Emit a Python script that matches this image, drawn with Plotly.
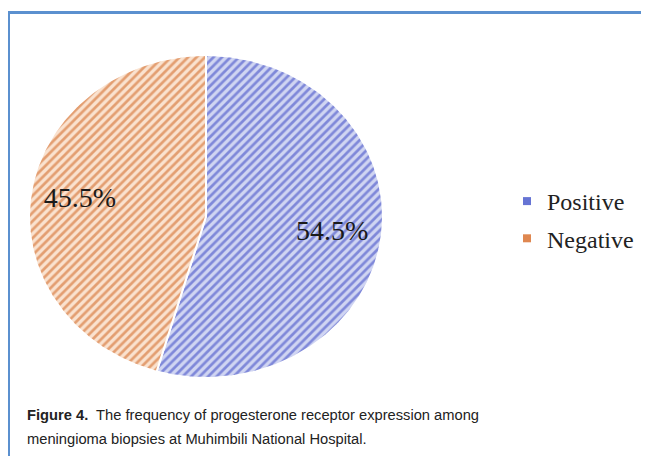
import numpy as np
import plotly.graph_objects as go

# ---- data ----
categories = ["Positive", "Negative"]
percentages = [54.5, 45.5]
label_texts = ["54.5%", "45.5%"]
caption_bold = "Figure 4."
caption_lines = ["The frequency of progesterone receptor expression among",
                 "meningioma biopsies at Muhimbili National Hospital."]

# ---- styles ----
W, H = 649, 456
OFF = 8  # page body margin offset
fg_colors = ["#2d3cc0", "#cc5a14"]
bg_colors = ["#d0d5f2", "#fae2cf"]
legend_colors = ["#6674d4", "#df8750"]
border_color = "#5b90cf"

def px(x):
    return (x - OFF) / W

def py(y):
    return 1 - (y - OFF) / H

# pie box in target-screen pixels (ellipse)
px_left, px_right, px_top, px_bottom = 29, 383, 55, 378

fig = go.Figure()

total = sum(percentages)
cum = np.concatenate([[0], np.cumsum(percentages)]) / total
label_r = 0.72
for i, cat in enumerate(categories):
    t = np.linspace(cum[i], cum[i + 1], 200)
    theta = np.pi / 2 - 2 * np.pi * t
    xs = np.concatenate([[0], np.cos(theta), [0]])
    ys = np.concatenate([[0], np.sin(theta), [0]])
    fig.add_trace(go.Scatter(
        x=xs, y=ys, mode="lines", fill="toself",
        line=dict(color="white", width=2),
        fillcolor=bg_colors[i],
        fillpattern=dict(shape="/", fgcolor=fg_colors[i], bgcolor=bg_colors[i],
                         size=6, solidity=0.45),
        showlegend=False, hoverinfo="skip"))
    mid = np.pi / 2 - 2 * np.pi * (cum[i] + cum[i + 1]) / 2
    fig.add_trace(go.Scatter(
        x=[label_r * np.cos(mid)], y=[label_r * np.sin(mid)],
        mode="text", text=[label_texts[i]],
        textfont=dict(family="Liberation Serif, Times New Roman, serif", size=28, color="#1a1a1a"),
        showlegend=False, hoverinfo="skip"))

for i, cat in enumerate(categories):
    fig.add_trace(go.Scatter(
        x=[None], y=[None], mode="markers", name=cat,
        marker=dict(symbol="square", size=8, color=legend_colors[i]),
        legendgroup=cat))

cap_font = dict(family="Liberation Sans, Arial, sans-serif", size=14.7, color="#222222")

fig.update_layout(
    width=W, height=H,
    margin=dict(l=0, r=0, t=0, b=0),
    paper_bgcolor="white", plot_bgcolor="white",
    xaxis=dict(domain=[px(px_left), px(px_right)], range=[-1, 1],
               visible=False, fixedrange=True),
    yaxis=dict(domain=[py(px_bottom), py(px_top)], range=[-1, 1],
               visible=False, fixedrange=True),
    showlegend=True,
    legend=dict(x=499 / W, y=1 - 171 / H, xanchor="left", yanchor="top",
                font=dict(family="Liberation Serif, Times New Roman, serif", size=24, color="#222222"),
                traceorder="grouped", tracegroupgap=3,
                bgcolor="rgba(0,0,0,0)"),
    shapes=[
        dict(type="line", xref="paper", yref="paper", x0=px(8.5), x1=1, y0=py(12.5), y1=py(12.5),
             line=dict(color=border_color, width=3)),
        dict(type="line", xref="paper", yref="paper", x0=px(8.5), x1=px(8.5), y0=0, y1=py(11),
             line=dict(color=border_color, width=3)),
    ],
    annotations=[
        dict(xref="paper", yref="paper", x=px(25), y=py(415), xanchor="left", yanchor="middle",
             align="left", showarrow=False,
             text=f"<b>{caption_bold}</b>  {caption_lines[0]}", font=cap_font),
        dict(xref="paper", yref="paper", x=px(25), y=py(439), xanchor="left", yanchor="middle",
             align="left", showarrow=False,
             text=caption_lines[1], font=cap_font),
    ],
)

fig.write_html("out.html")
